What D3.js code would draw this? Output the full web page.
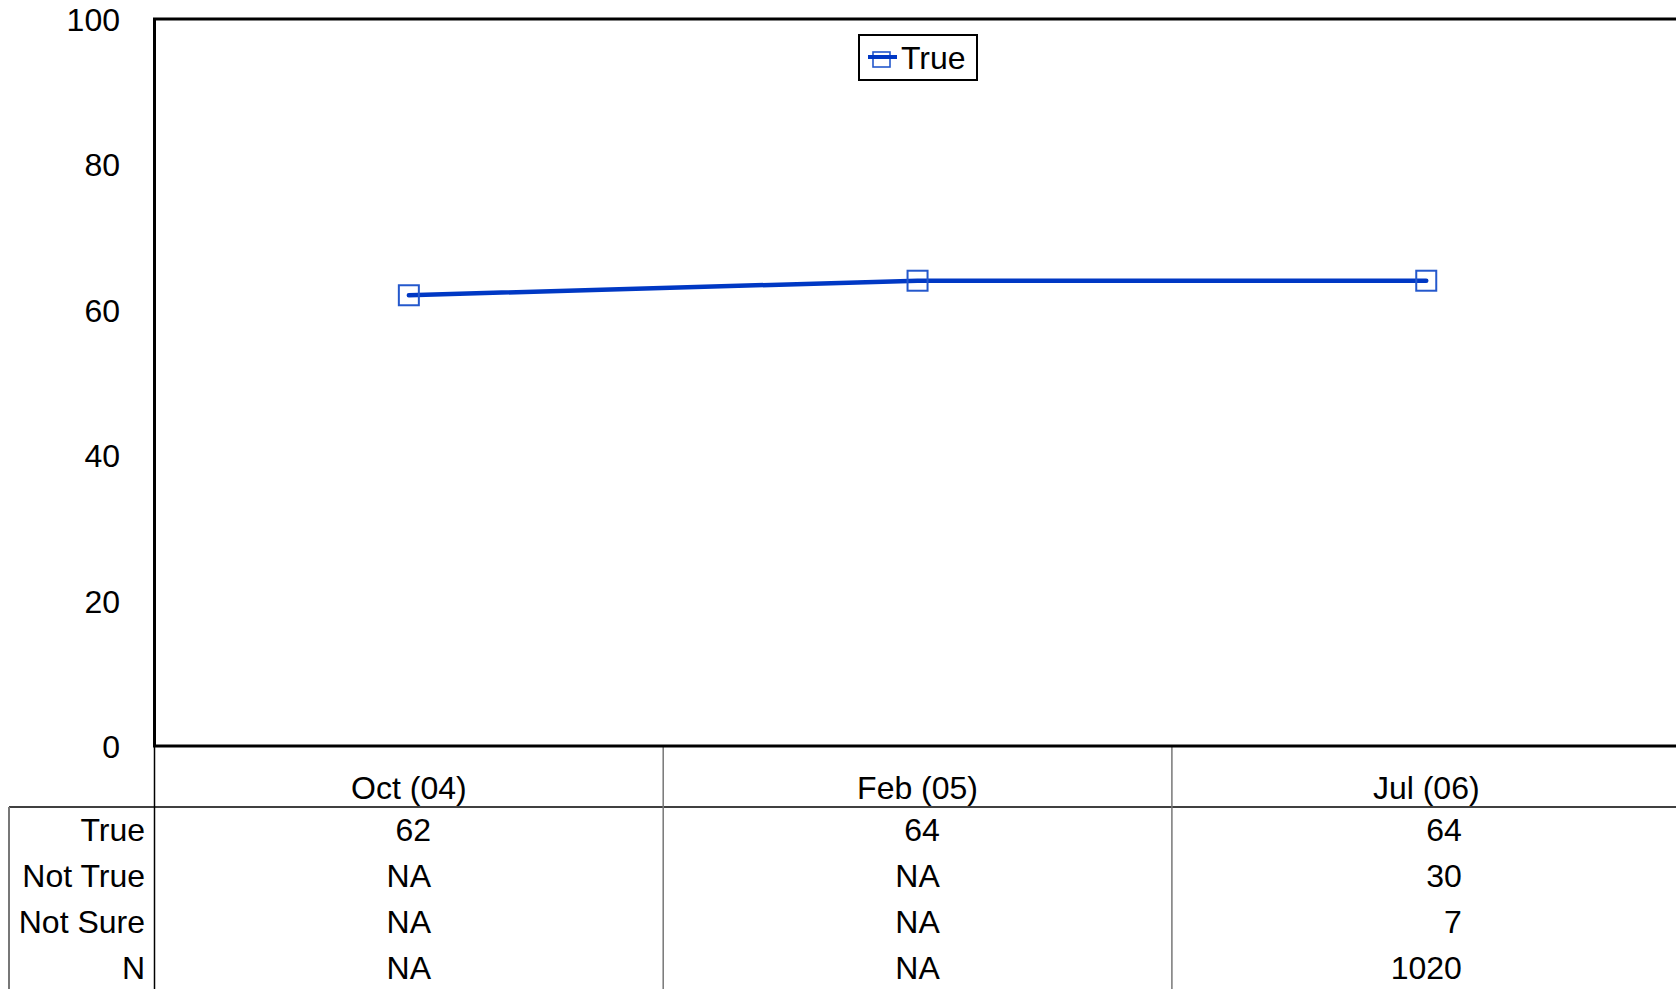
<!DOCTYPE html>
<html>
<head>
<meta charset="utf-8">
<script src="https://cdn.jsdelivr.net/npm/d3@7"></script>
<style>
  html, body { margin: 0; padding: 0; background: #fff; }
  svg { display: block; font-family: "Liberation Sans", Arial, sans-serif; }
</style>
</head>
<body>
<svg id="chart" width="1676" height="989"></svg>
<script>
// Survey waves and the "True" share over time
const categories = ["Oct (04)", "Feb (05)", "Jul (06)"];
const trueValues = [62, 64, 64];
const yTicks = [0, 20, 40, 60, 80, 100];

// Data table rows shown beneath the chart
const rowLabels = ["True", "Not True", "Not Sure", "N"];
const notTrueValues = ["NA", "NA", 30];
const notSureValues = ["NA", "NA", 7];
const sampleSizes = ["NA", "NA", 1020];
const tableRows = [trueValues, notTrueValues, notSureValues, sampleSizes];

const W = 1676, H = 989;
const plot = { left: 154.5, top: 19, bottom: 746, colWidth: 508.7 };
const fontSize = 32;
const lineColor = "#0038c4";
const markerColor = "#2458cc";

const svg = d3.select("#chart");

const x = d3.scaleBand()
  .domain(categories)
  .range([plot.left, plot.left + plot.colWidth * categories.length])
  .paddingInner(0).paddingOuter(0);
const cx = c => x(c) + x.bandwidth() / 2;

const y = d3.scaleLinear().domain([0, 100]).range([plot.bottom, plot.top]);

// Y axis labels (no tick marks)
const yAxis = d3.axisLeft(y).tickValues(yTicks).tickSize(0).tickPadding(0);
const gy = svg.append("g")
  .attr("transform", `translate(${plot.left - 34.5},0)`)
  .call(yAxis);
gy.select(".domain").remove();
gy.selectAll("text")
  .attr("font-size", fontSize)
  .attr("font-family", "Liberation Sans, Arial, sans-serif")
  .attr("fill", "#000")
  .attr("dy", "0.36em");

// Table grid lines
const tableTop = 807;
const grid = svg.append("g");
grid.append("line")
  .attr("x1", 9).attr("x2", W)
  .attr("y1", tableTop).attr("y2", tableTop)
  .attr("stroke", "#000").attr("stroke-width", 1.5);
grid.append("line")
  .attr("x1", 9).attr("x2", 9)
  .attr("y1", tableTop).attr("y2", H)
  .attr("stroke", "#777").attr("stroke-width", 2);
grid.selectAll(".colsep")
  .data(categories)
  .join("line")
  .attr("class", "colsep")
  .attr("x1", d => x(d)).attr("x2", d => x(d))
  .attr("y1", plot.bottom).attr("y2", H)
  .attr("stroke", (d, i) => i === 0 ? "#000" : "#777")
  .attr("stroke-width", 1.5);

// Plot frame
svg.append("rect")
  .attr("x", plot.left).attr("y", plot.top)
  .attr("width", W + 10 - plot.left).attr("height", plot.bottom - plot.top)
  .attr("fill", "none").attr("stroke", "#000").attr("stroke-width", 3);

// Category header labels
svg.append("g").selectAll("text")
  .data(categories)
  .join("text")
  .attr("x", d => cx(d)).attr("y", 799)
  .attr("text-anchor", "middle")
  .attr("font-size", fontSize)
  .text(d => d);

// Row labels
const rowY = [841, 887, 933, 979];
svg.append("g").selectAll("text")
  .data(rowLabels)
  .join("text")
  .attr("x", 145).attr("y", (d, i) => rowY[i])
  .attr("text-anchor", "end")
  .attr("font-size", fontSize)
  .text(d => d);

// Table values: each column right-aligned, block centred in the column
categories.forEach((c, ci) => {
  const g = svg.append("g");
  const texts = g.selectAll("text")
    .data(tableRows.map(r => r[ci]))
    .join("text")
    .attr("y", (d, i) => rowY[i])
    .attr("text-anchor", "end")
    .attr("font-size", fontSize)
    .text(d => d);
  let maxW = 0;
  texts.each(function () { maxW = Math.max(maxW, this.getComputedTextLength()); });
  texts.attr("x", cx(c) + maxW / 2);
});

// Series line
const line = d3.line()
  .x((d, i) => cx(categories[i]))
  .y(d => y(d));
svg.append("path")
  .datum(trueValues)
  .attr("d", line)
  .attr("fill", "none")
  .attr("stroke", lineColor)
  .attr("stroke-width", 4.5)
  .attr("stroke-linecap", "round");

// Square markers
const ms = 20;
svg.append("g").selectAll("rect")
  .data(trueValues)
  .join("rect")
  .attr("x", (d, i) => cx(categories[i]) - ms / 2)
  .attr("y", d => y(d) - ms / 2)
  .attr("width", ms).attr("height", ms)
  .attr("fill", "none")
  .attr("stroke", markerColor).attr("stroke-width", 2);

// Legend
const lg = svg.append("g");
lg.append("rect")
  .attr("x", 859).attr("y", 35).attr("width", 118).attr("height", 45)
  .attr("fill", "#fff").attr("stroke", "#000").attr("stroke-width", 2);
lg.append("rect")
  .attr("x", 873).attr("y", 52).attr("width", 17).attr("height", 15)
  .attr("fill", "none").attr("stroke", markerColor).attr("stroke-width", 1.6);
lg.append("line")
  .attr("x1", 868).attr("x2", 897).attr("y1", 57).attr("y2", 57)
  .attr("stroke", lineColor).attr("stroke-width", 4);
lg.append("text")
  .attr("x", 901).attr("y", 69)
  .attr("font-size", fontSize)
  .text("True");
</script>
</body>
</html>
